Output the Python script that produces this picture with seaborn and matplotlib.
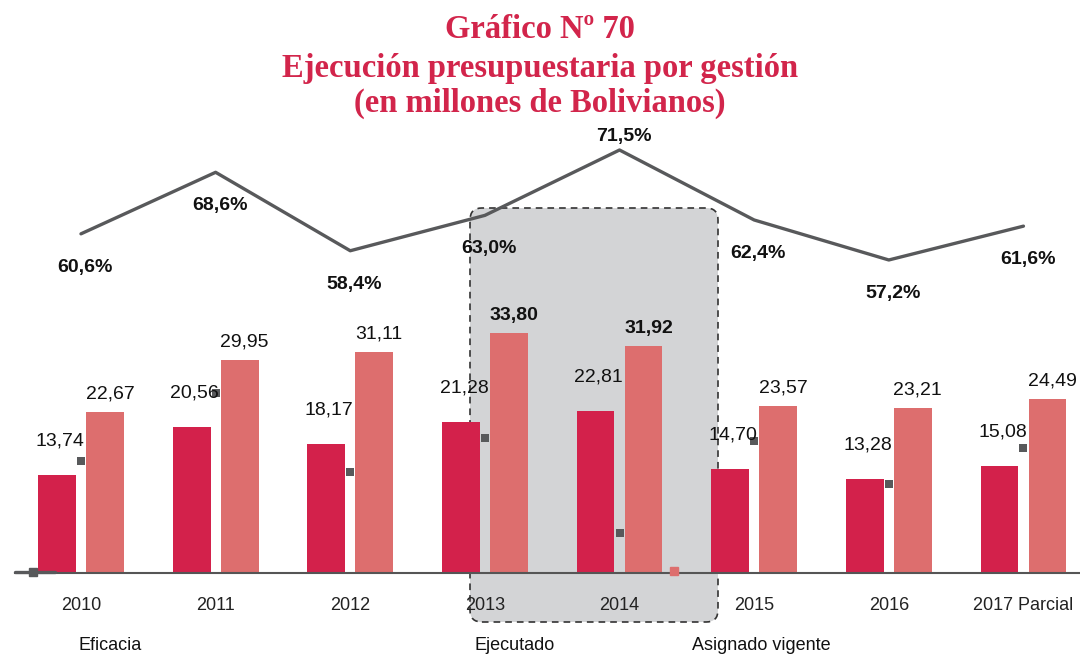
import numpy as np
import pandas as pd
import matplotlib.pyplot as plt
import seaborn as sns
from matplotlib.patches import FancyBboxPatch
from matplotlib.lines import Line2D
from matplotlib import font_manager

# data
gestiones = ["2010", "2011", "2012", "2013", "2014", "2015", "2016", "2017 Parcial"]
ejecutado = [13.74, 20.56, 18.17, 21.28, 22.81, 14.70, 13.28, 15.08]
asignado = [22.67, 29.95, 31.11, 33.80, 31.92, 23.57, 23.21, 24.49]
eficacia = [60.6, 68.6, 58.4, 63.0, 71.5, 62.4, 57.2, 61.6]
marcas = [15.8, 25.4, 14.2, 19.0, 5.6, 18.6, 12.5, 17.6]   # stray grey squares
destacados = ["2013", "2014"]

ROJO = "#D3214B"
ROSA = "#DD6E6E"
GRIS = "#58595B"
TITULO = "#D2254B"

sns.set_theme(style="white")
names = {f.name for f in font_manager.fontManager.ttflist}
sans = "Liberation Sans Narrow" if "Liberation Sans Narrow" in names else "Liberation Sans"
plt.rcParams['font.family'] = [sans, 'DejaVu Sans']

df = pd.DataFrame({
    "Gestion": gestiones * 2,
    "Monto": ejecutado + asignado,
    "Serie": ["Ejecutado"] * len(gestiones) + ["Asignado vigente"] * len(gestiones),
})

fig = plt.figure(figsize=(10.8, 6.55), dpi=100)
ax = fig.add_axes([15 / 1080, 1 - 573 / 655, 1065 / 1080, 433 / 655])
ax.patch.set_alpha(0)

# highlighted box for 2013-2014 (decoration, in figure coordinates)
box = FancyBboxPatch((470 / 1080, 1 - 622 / 655), 248 / 1080, 414 / 655,
                     boxstyle="round,pad=0,rounding_size=0.011",
                     mutation_aspect=1080 / 655,
                     transform=fig.transFigure, facecolor="#D3D4D6",
                     edgecolor="#333333", linestyle=(0, (4, 3)), linewidth=1.2,
                     zorder=-1)
fig.patches.append(box)

sns.barplot(data=df, x="Gestion", y="Monto", hue="Serie", order=gestiones,
            palette=[ROJO, ROSA], width=0.713, gap=0.213, ax=ax,
            legend=False, saturation=1, linewidth=0, zorder=2)

ax.set_xlim(-0.49, 7.42)
ax.set_ylim(0, 61)
ax.set_xlabel("")
ax.set_ylabel("")
ax.set_yticks([])
ax.tick_params(axis='x', length=0, pad=17, labelsize=13, colors="#222222")
for s in ["top", "left", "right"]:
    ax.spines[s].set_visible(False)
ax.spines["bottom"].set_color("#555555")
ax.spines["bottom"].set_linewidth(1.5)
ax.spines["bottom"].set_zorder(3)

# value labels on bars
for cont, vals, dx, dy, col in [(ax.containers[0], ejecutado, 3, 34, "Ejecutado"),
                                (ax.containers[1], asignado, 5, 18, "Asignado vigente")]:
    for bar, v, g in zip(cont, vals, gestiones):
        bold = col == "Asignado vigente" and g in destacados
        ax.annotate(f"{v:.2f}".replace(".", ","),
                    (bar.get_x() + bar.get_width() / 2, bar.get_height()),
                    xytext=(dx * 0.72, dy * 0.72), textcoords="offset points",
                    ha="center", va="center", fontsize=14, color="#111111",
                    fontweight="bold" if bold else "normal", zorder=5)

# stray grey squares
ax.scatter(range(len(gestiones)), marcas, marker="s", s=40, color=GRIS, zorder=4,
           linewidths=0)

# eficacia line on a twin axis
ax2 = ax.twinx()
sns.lineplot(x=list(range(len(gestiones))), y=eficacia, ax=ax2, color=GRIS,
             linewidth=2.4, zorder=4)
ax2.set_ylim(16.5, 72.8)
ax2.set_yticks([])
for s in ax2.spines.values():
    s.set_visible(False)
imax = int(np.argmax(eficacia))
for i, v in enumerate(eficacia):
    dy = 10 if i == imax else -24
    ax2.annotate(f"{v:.1f}%".replace(".", ","), (i, v), xytext=(3, dy),
                 textcoords="offset points", ha="center", va="center",
                 fontsize=14, fontweight="bold", color="#111111", zorder=5)

# title
for y, t in [(30, "Gráfico Nº 70"), (68, "Ejecución presupuestaria por gestión"),
             (103, "(en millones de Bolivianos)")]:
    fig.text(0.5, 1 - y / 655, t, ha="center", va="center", fontsize=23.5,
             fontweight="bold", color=TITULO, family="Liberation Serif")

# legend texts, with their keys displaced as in the original
for x, t in [(79, "Eficacia"), (475, "Ejecutado"), (692, "Asignado vigente")]:
    fig.text(x / 1080, 1 - 646 / 655, t, ha="left", va="center", fontsize=13,
             color="#111111")
fig.lines.append(Line2D([15 / 1080, 55 / 1080], [1 - 572 / 655] * 2,
                        transform=fig.transFigure, color=GRIS, linewidth=2.4))
fig.lines.append(Line2D([33 / 1080], [1 - 572 / 655], transform=fig.transFigure,
                        marker="s", markersize=6, color=GRIS, linestyle="none"))
fig.lines.append(Line2D([674 / 1080], [1 - 571 / 655], transform=fig.transFigure,
                        marker="s", markersize=6, color=ROSA, linestyle="none"))

fig.savefig("out.png", dpi=100)
